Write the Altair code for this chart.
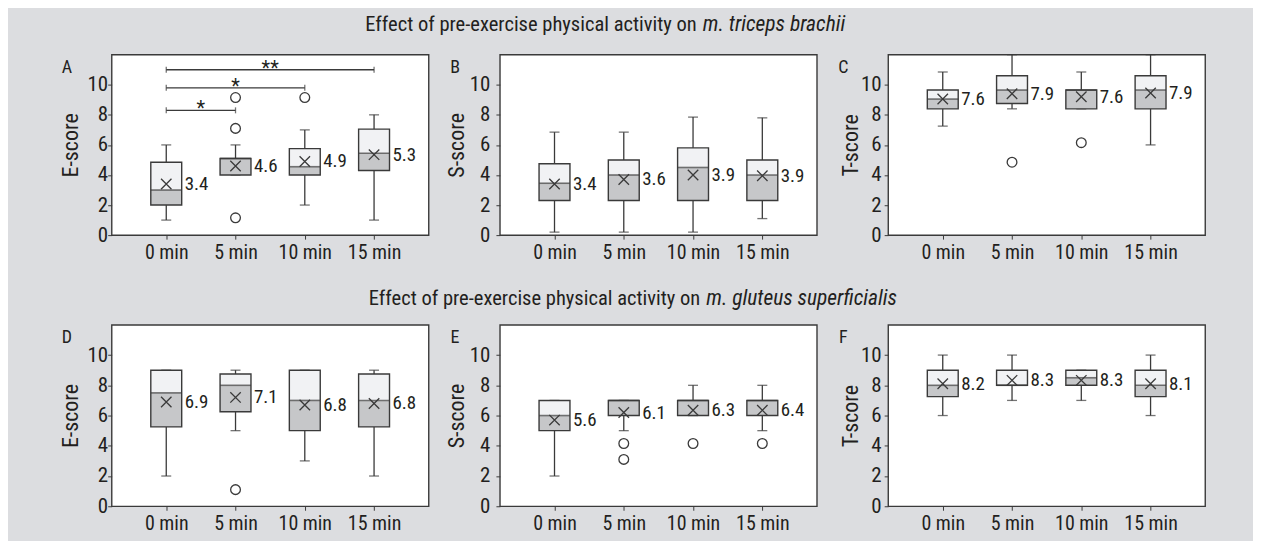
import altair as alt
import pandas as pd

categories = ["0 min", "5 min", "10 min", "15 min"]
cat_index = [0, 1, 2, 3]

title_normal = "Effect of pre-exercise physical activity on"
title1_italic = "m. triceps brachii"
title2_italic = "m. gluteus superficialis"

panel_keys = ["A", "B", "C", "D", "E", "F"]
score_titles = ["E-score", "S-score", "T-score", "E-score", "S-score", "T-score"]

# Panel A
a_lo = [1, 4, 2, 1]
a_q1 = [2, 4, 4, 4.3]
a_med = [3, 5.1, 4.55, 5.45]
a_q3 = [4.85, 5.1, 5.75, 7.05]
a_hi = [6, 6, 7, 8]
a_mean = [3.4, 4.6, 4.9, 5.35]
a_lab = ["3.4", "4.6", "4.9", "5.3"]
# Panel B
b_lo = [0.2, 0.2, 0.2, 1.1]
b_q1 = [2.3, 2.3, 2.3, 2.3]
b_med = [3.45, 4, 4.5, 4]
b_q3 = [4.75, 5, 5.8, 5]
b_hi = [6.85, 6.85, 7.85, 7.8]
b_mean = [3.4, 3.7, 4.0, 3.95]
b_lab = ["3.4", "3.6", "3.9", "3.9"]
# Panel C
c_lo = [7.25, 8.4, 8.4, 6]
c_q1 = [8.4, 8.75, 8.4, 8.4]
c_med = [9.05, 9.65, 9.65, 9.65]
c_q3 = [9.65, 10.6, 9.65, 10.6]
c_hi = [10.85, 12, 10.85, 12]
c_mean = [9.05, 9.4, 9.2, 9.45]
c_lab = ["7.6", "7.9", "7.6", "7.9"]
# Panel D
d_lo = [2, 5, 3, 2]
d_q1 = [5.25, 6.25, 5, 5.25]
d_med = [7.5, 8, 7, 7]
d_q3 = [9, 8.75, 9, 8.75]
d_hi = [9, 9, 9, 9]
d_mean = [6.9, 7.2, 6.7, 6.8]
d_lab = ["6.9", "7.1", "6.8", "6.8"]
# Panel E
e_lo = [2, 5, 6, 5]
e_q1 = [5, 6, 6, 6]
e_med = [6, 7, 7, 7]
e_q3 = [7, 7, 7, 7]
e_hi = [7, 7, 8, 8]
e_mean = [5.7, 6.2, 6.35, 6.35]
e_lab = ["5.6", "6.1", "6.3", "6.4"]
# Panel F
f_lo = [6, 7, 7, 6]
f_q1 = [7.25, 8, 8, 7.25]
f_med = [8, 8, 8.5, 8]
f_q3 = [9, 9, 9, 9]
f_hi = [10, 10, 9, 10]
f_mean = [8.1, 8.33, 8.33, 8.1]
f_lab = ["8.2", "8.3", "8.3", "8.1"]

# Outliers
out_panel = ["A", "A", "A", "A", "C", "C", "D", "E", "E", "E", "E"]
out_cat = [1, 1, 1, 2, 1, 2, 1, 1, 1, 2, 3]
out_val = [9.15, 7.1, 1.15, 9.15, 4.85, 6.15, 1.1, 4.15, 3.1, 4.15, 4.15]

# Significance brackets (panel A)
br_start = [0, 0, 0]
br_end = [1, 2, 3]
br_y = [8.3, 9.8, 11.0]
br_label = ["*", "*", "**"]

FONT = "Roboto Condensed"
BG = "#dcdde0"
LIGHT = "#f1f2f4"
MID = "#c6c7c9"
DARK = "#3a3a3a"
TXT = "#231f20"

label_expr = "[" + ",".join("'" + c + "'" for c in categories) + "][datum.value]"

panel_data = {
    "A": (a_lo, a_q1, a_med, a_q3, a_hi, a_mean, a_lab),
    "B": (b_lo, b_q1, b_med, b_q3, b_hi, b_mean, b_lab),
    "C": (c_lo, c_q1, c_med, c_q3, c_hi, c_mean, c_lab),
    "D": (d_lo, d_q1, d_med, d_q3, d_hi, d_mean, d_lab),
    "E": (e_lo, e_q1, e_med, e_q3, e_hi, e_mean, e_lab),
    "F": (f_lo, f_q1, f_med, f_q3, f_hi, f_mean, f_lab),
}
label_pad = {"A": 0, "B": 6, "C": 3, "D": 0, "E": 6, "F": 3}
title_x = {"A": -34, "B": -37, "C": -31, "D": -34, "E": -37, "F": -31}


def panel(key, ytitle, height):
    lo, q1, med, q3, hi, mean, lab = panel_data[key]
    df = pd.DataFrame({"i": cat_index, "lo": lo, "q1": q1, "med": med,
                       "q3": q3, "hi": hi, "mean": mean, "label": lab})
    xscale = alt.Scale(domain=[-0.788, 3.788], nice=False, zero=False, padding=0)
    xaxis = alt.Axis(title=None, values=cat_index, labelExpr=label_expr,
                     tickSize=4, labelPadding=3, domain=False, grid=False,
                     labelFontSize=20)
    yscale = alt.Scale(domain=[0, 12], nice=False, padding=0)
    yaxis = alt.Axis(title=ytitle, values=[0, 2, 4, 6, 8, 10], tickSize=4,
                     labelPadding=label_pad[key], titleX=title_x[key],
                     titleBaseline="alphabetic", domain=False, grid=False,
                     labelFontSize=21, titleFontSize=22)

    def X(f):
        return alt.X(f + ":Q", scale=xscale, axis=xaxis)

    def Y(f):
        return alt.Y(f + ":Q", scale=yscale, axis=yaxis)

    base = alt.Chart(df)
    layers = [
        base.mark_rule(color=DARK, strokeWidth=1.3).encode(x=X("i"), y=Y("lo"), y2="q1:Q"),
        base.mark_rule(color=DARK, strokeWidth=1.3).encode(x=X("i"), y=Y("q3"), y2="hi:Q"),
        base.mark_tick(orient="horizontal", size=10, thickness=1.3, color=DARK).encode(x=X("i"), y=Y("lo")),
        base.mark_tick(orient="horizontal", size=10, thickness=1.3, color=DARK).encode(x=X("i"), y=Y("hi")),
        base.mark_bar(size=31, color=MID).encode(x=X("i"), y=Y("q1"), y2="med:Q"),
        base.mark_bar(size=31, color=LIGHT).encode(x=X("i"), y=Y("med"), y2="q3:Q"),
        base.mark_bar(size=31, fillOpacity=0, stroke=DARK, strokeWidth=1.4).encode(x=X("i"), y=Y("q1"), y2="q3:Q"),
        base.mark_tick(orient="horizontal", size=31, thickness=1.6, color=DARK).encode(x=X("i"), y=Y("med")),
        base.mark_point(shape="M-1,-1L1,1M-1,1L1,-1", size=110, filled=False,
                        color=DARK, strokeWidth=1.3, opacity=1).encode(x=X("i"), y=Y("mean")),
        base.mark_text(align="left", baseline="middle", dx=18.5, fontSize=19,
                       font=FONT, color=TXT).encode(x=X("i"), y=Y("mean"), text="label:N"),
    ]
    odf = pd.DataFrame({"p": out_panel, "i": out_cat, "v": out_val})
    odf = odf[odf["p"] == key]
    if len(odf):
        layers.append(alt.Chart(odf).mark_point(shape="circle", size=95, filled=True,
                                                fill="white", stroke=DARK, strokeWidth=1.3,
                                                opacity=1).encode(x=X("i"), y=Y("v")))
    if key == "A":
        bdf = pd.DataFrame({"s": br_start, "e": br_end, "y": br_y, "t": br_label})
        bdf["m"] = (bdf["s"] + bdf["e"]) / 2
        layers.append(alt.Chart(bdf).mark_rule(color=DARK, strokeWidth=1.3).encode(
            x=X("s"), x2="e:Q", y=Y("y")))
        layers.append(alt.Chart(bdf).mark_tick(orient="vertical", size=6, thickness=1.3,
                                               color=DARK).encode(x=X("s"), y=Y("y")))
        layers.append(alt.Chart(bdf).mark_tick(orient="vertical", size=6, thickness=1.3,
                                               color=DARK).encode(x=X("e"), y=Y("y")))
        layers.append(alt.Chart(bdf).mark_text(baseline="alphabetic", dy=5, fontSize=20,
                                               font=FONT, color=TXT).encode(
            x=X("m"), y=Y("y"), text="t:N"))
    ldf = pd.DataFrame({"t": [key]})
    layers.append(alt.Chart(ldf).mark_text(align="center", baseline="alphabetic",
                                           fontSize=18, font=FONT, color=TXT).encode(
        x=alt.value(-45), y=alt.value(18), text="t:N"))
    # section title drawn above the middle panel of each row
    if key in ("B", "E"):
        italic_text = title1_italic if key == "B" else title2_italic
        split = 197.5 if key == "B" else 201
        base_y = -24 if key == "B" else -20
        tdf = pd.DataFrame({"n": [title_normal], "it": [italic_text]})
        layers.append(alt.Chart(tdf).mark_text(align="right", baseline="alphabetic",
                                               fontSize=20.6, font=FONT, color=TXT).encode(
            x=alt.value(split), y=alt.value(base_y), text="n:N"))
        layers.append(alt.Chart(tdf).mark_text(align="left", baseline="alphabetic",
                                               fontSize=21.5, font=FONT, fontStyle="italic",
                                               color=TXT).encode(
            x=alt.value(split + 6), y=alt.value(base_y), text="it:N"))
    # invisible anchors fixing the outer extent of the figure
    if key in ("A", "F"):
        adf = pd.DataFrame({"a": [0]})
        ax, ay = (-102, -44) if key == "A" else (364, 214)
        layers.append(alt.Chart(adf).mark_point(size=1, opacity=0, filled=True,
                                                strokeWidth=0).encode(
            x=alt.value(ax), y=alt.value(ay)))
    return alt.layer(*layers).properties(width=318, height=height)


chart = alt.concat(
    panel("A", score_titles[0], 181), panel("B", score_titles[1], 181),
    panel("C", score_titles[2], 181), panel("D", score_titles[3], 182),
    panel("E", score_titles[4], 182), panel("F", score_titles[5], 182),
    columns=3, spacing={"row": 90, "column": 71.5}, bounds="flush",
).properties(
    background=BG,
    padding=0,
).configure_view(
    stroke=DARK, strokeWidth=1.4, fill="white"
).configure_axis(
    labelFont=FONT, titleFont=FONT, labelColor=TXT, titleColor=TXT,
    tickColor=DARK, titleFontWeight="normal",
)

chart.save("out.html", embed_options={"renderer": "svg", "actions": False})
